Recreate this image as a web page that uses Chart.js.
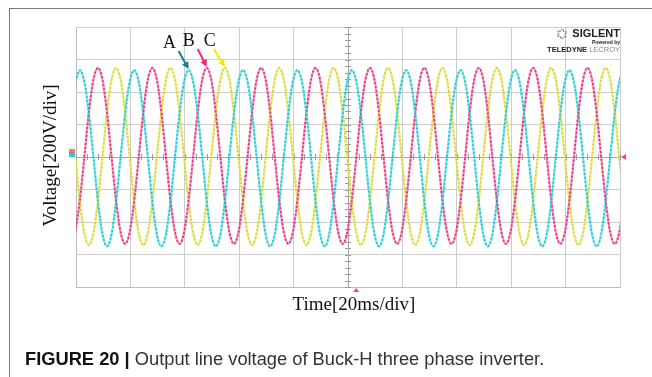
<!DOCTYPE html>
<html>
<head>
<meta charset="utf-8">
<script src="https://cdn.jsdelivr.net/npm/chart.js@4.4.1/dist/chart.umd.min.js"></script>
<style>
  body { margin: 0; background: #fff; }
  #wrap { position: relative; width: 652px; height: 377px; overflow: hidden; }
  #scope { position: absolute; left: 0; top: 0; }
  .frame { position: absolute; left: 9px; top: 8px; right: -2px; bottom: -2px;
           border-top: 1.5px solid #7a7a7a; border-left: 1.5px solid #7a7a7a; }
  .serif { position: absolute; font-family: "Liberation Serif", serif; font-size: 19px;
           line-height: 1; color: #111; white-space: nowrap; }
  .ytitle { left: -51px; top: 146px; width: 200px; text-align: center; transform: rotate(-90deg); }
  .xtitle { left: 254px; top: 294px; width: 200px; text-align: center; }
  .logo { position: absolute; right: 32px; font-family: "Liberation Sans", sans-serif;
          line-height: 1; white-space: nowrap; text-align: right; color: #222; }
  .caption { position: absolute; left: 25px; top: 350px; font-family: "Liberation Sans", sans-serif;
             font-size: 18.3px; line-height: 1; color: #333; white-space: nowrap; }
  .caption b { color: #111; }
</style>
</head>
<body>
<div id="wrap">
  <canvas id="scope" width="652" height="377"></canvas>
  <div class="frame"></div>
  <div class="serif ytitle">Voltage[200V/div]</div>
  <div class="serif xtitle">Time[20ms/div]</div>
  <div class="logo" style="top:28px;font-size:11px;font-weight:bold;">SIGLENT</div>
  <div class="logo" style="top:40px;font-size:5px;font-weight:bold;">Powered by</div>
  <div class="logo" style="top:45.5px;font-size:7.5px;"><b>TELEDYNE</b> <span style="color:#888">LECROY</span></div>
  <div class="caption"><b>FIGURE 20 |</b> Output line voltage of Buck-H three phase inverter.</div>
</div>
<script>
// sample times (ms), 30 degree steps of the 50 Hz output
const timeMs = [
  -0.27,
  1.40, 3.07, 4.73, 6.40, 8.07, 9.73, 11.40, 13.07, 14.73, 16.40, 18.07, 19.73,
  21.40, 23.07, 24.73, 26.40, 28.07, 29.73, 31.40, 33.07, 34.73, 36.40, 38.07, 39.73,
  41.40, 43.07, 44.73, 46.40, 48.07, 49.73, 51.40, 53.07, 54.73, 56.40, 58.07, 59.73,
  61.40, 63.07, 64.73, 66.40, 68.07, 69.73, 71.40, 73.07, 74.73, 76.40, 78.07, 79.73,
  81.40, 83.07, 84.73, 86.40, 88.07, 89.73, 91.40, 93.07, 94.73, 96.40, 98.07, 99.73,
  101.40, 103.07, 104.73, 106.40, 108.07, 109.73, 111.40, 113.07, 114.73, 116.40, 118.07, 119.73,
  121.40, 123.07, 124.73, 126.40, 128.07, 129.73, 131.40, 133.07, 134.73, 136.40, 138.07, 139.73,
  141.40, 143.07, 144.73, 146.40, 148.07, 149.73, 151.40, 153.07, 154.73, 156.40, 158.07, 159.73,
  161.40, 163.07, 164.73, 166.40, 168.07, 169.73, 171.40, 173.07, 174.73, 176.40, 178.07, 179.73,
  181.40, 183.07, 184.73, 186.40, 188.07, 189.73, 191.40, 193.07, 194.73, 196.40, 198.07, 199.73,
  201.40
];

// line voltages (V)
const phaseA = [
  463,
  535, 463, 268, 0, -275, -476, -550, -476, -275, 0, 268, 463,
  535, 463, 268, 0, -275, -476, -550, -476, -275, 0, 268, 463,
  535, 463, 268, 0, -275, -476, -550, -476, -275, 0, 268, 463,
  535, 463, 268, 0, -275, -476, -550, -476, -275, 0, 268, 463,
  535, 463, 268, 0, -275, -476, -550, -476, -275, 0, 268, 463,
  535, 463, 268, 0, -275, -476, -550, -476, -275, 0, 268, 463,
  535, 463, 268, 0, -275, -476, -550, -476, -275, 0, 268, 463,
  535, 463, 268, 0, -275, -476, -550, -476, -275, 0, 268, 463,
  535, 463, 268, 0, -275, -476, -550, -476, -275, 0, 268, 463,
  535, 463, 268, 0, -275, -476, -550, -476, -275, 0, 268, 463,
  535
];
const phaseB = [
  -463,
  -268, 0, 274, 475, 548, 475, 274, 0, -268, -463, -535, -463,
  -268, 0, 274, 475, 548, 475, 274, 0, -268, -463, -535, -463,
  -268, 0, 274, 475, 548, 475, 274, 0, -268, -463, -535, -463,
  -268, 0, 274, 475, 548, 475, 274, 0, -268, -463, -535, -463,
  -268, 0, 274, 475, 548, 475, 274, 0, -268, -463, -535, -463,
  -268, 0, 274, 475, 548, 475, 274, 0, -268, -463, -535, -463,
  -268, 0, 274, 475, 548, 475, 274, 0, -268, -463, -535, -463,
  -268, 0, 274, 475, 548, 475, 274, 0, -268, -463, -535, -463,
  -268, 0, 274, 475, 548, 475, 274, 0, -268, -463, -535, -463,
  -268, 0, 274, 475, 548, 475, 274, 0, -268, -463, -535, -463,
  -268
];
const phaseC = [
  0,
  -271, -469, -542, -469, -271, 0, 274, 475, 548, 475, 274, 0,
  -271, -469, -542, -469, -271, 0, 274, 475, 548, 475, 274, 0,
  -271, -469, -542, -469, -271, 0, 274, 475, 548, 475, 274, 0,
  -271, -469, -542, -469, -271, 0, 274, 475, 548, 475, 274, 0,
  -271, -469, -542, -469, -271, 0, 274, 475, 548, 475, 274, 0,
  -271, -469, -542, -469, -271, 0, 274, 475, 548, 475, 274, 0,
  -271, -469, -542, -469, -271, 0, 274, 475, 548, 475, 274, 0,
  -271, -469, -542, -469, -271, 0, 274, 475, 548, 475, 274, 0,
  -271, -469, -542, -469, -271, 0, 274, 475, 548, 475, 274, 0,
  -271, -469, -542, -469, -271, 0, 274, 475, 548, 475, 274, 0,
  -271
];

// phase tags and the peak each arrow points at (ms)
const phaseNames = ["A", "B", "C"];
const tagPeaks = [41.40, 48.07, 54.73];

const TRIG_TIME = 103; // trigger marker on the time axis

const colors = {
  A: { line: "#22c9d2", under: "rgba(60,215,225,0.6)", arrow: "#17808f" },
  B: { line: "#e8327c", under: "rgba(240,90,150,0.6)", arrow: "#ff2080" },
  C: { line: "#d6d638", under: "rgba(230,230,80,0.65)", arrow: "#f2ee00" },
};

function points(values) {
  return values.map((v, i) => ({ x: timeMs[i], y: v }));
}

function trace(values, color, dashed) {
  return {
    data: points(values),
    borderColor: dashed ? color.line : color.under,
    borderWidth: dashed ? 1.8 : 2.2,
    borderDash: dashed ? [2, 2] : [],
    pointRadius: 0,
    cubicInterpolationMode: "monotone",
  };
}

const series = [phaseA, phaseB, phaseC];

// ticks on the centre cross, arrows + tags, scope markers
const scopeDecor = {
  id: "scopeDecor",
  beforeDatasetsDraw(chart) {
    const { ctx, scales: { x, y } } = chart;
    const x0 = x.getPixelForValue(100);
    const y0 = y.getPixelForValue(0);
    ctx.save();
    ctx.strokeStyle = "#9a9a9a";
    ctx.lineWidth = 1;
    ctx.beginPath();
    for (let t = 0; t <= 200; t += 4) {
      const px = Math.round(x.getPixelForValue(t)) + 0.5;
      ctx.moveTo(px, y0 - 3);
      ctx.lineTo(px, y0 + 3);
    }
    for (let v = -800; v <= 800; v += 40) {
      const py = Math.round(y.getPixelForValue(v)) + 0.5;
      ctx.moveTo(x0 - 3, py);
      ctx.lineTo(x0 + 3, py);
    }
    ctx.stroke();
    ctx.restore();
  },
  afterDatasetsDraw(chart) {
    const { ctx, chartArea, scales: { x, y } } = chart;
    ctx.save();

    // channel ground marker on the left
    const y0 = y.getPixelForValue(0);
    ctx.fillStyle = "#e0904a";
    ctx.fillRect(chartArea.left - 7, y0 - 8, 6, 3);
    ctx.fillStyle = "#d8708a";
    ctx.fillRect(chartArea.left - 7, y0 - 5, 6, 2);
    ctx.fillStyle = "#34c6e2";
    ctx.fillRect(chartArea.left - 7, y0 - 3, 6, 3);

    // trigger level (right) and trigger position (bottom)
    ctx.fillStyle = "#ff3d8b";
    ctx.beginPath();
    ctx.moveTo(chartArea.right + 1, y0);
    ctx.lineTo(chartArea.right + 6, y0 - 3);
    ctx.lineTo(chartArea.right + 6, y0 + 3);
    ctx.fill();
    const tx = x.getPixelForValue(TRIG_TIME);
    ctx.beginPath();
    ctx.moveTo(tx, chartArea.bottom + 1);
    ctx.lineTo(tx - 3, chartArea.bottom + 5);
    ctx.lineTo(tx + 3, chartArea.bottom + 5);
    ctx.fill();

    // A / B / C tags with arrows
    const tagDx = [-19, -18, -15];
    const tailDx = [-10, -9, -11];
    ctx.font = '18px "Liberation Serif"';
    ctx.textAlign = "center";
    ctx.textBaseline = "alphabetic";
    phaseNames.forEach((name, i) => {
      const k = timeMs.indexOf(tagPeaks[i]);
      const px = x.getPixelForValue(tagPeaks[i]);
      const py = y.getPixelForValue(series[i][k]) - 1;
      const sx = px + tailDx[i];
      const sy = py - 18;
      const ang = Math.atan2(py - sy, px - sx);
      const c = colors[name].arrow;
      ctx.strokeStyle = c;
      ctx.fillStyle = c;
      ctx.lineWidth = 2;
      ctx.beginPath();
      ctx.moveTo(sx, sy);
      ctx.lineTo(px - 5 * Math.cos(ang), py - 5 * Math.sin(ang));
      ctx.stroke();
      ctx.beginPath();
      ctx.moveTo(px, py);
      ctx.lineTo(px - 7 * Math.cos(ang) + 3.5 * Math.sin(ang), py - 7 * Math.sin(ang) - 3.5 * Math.cos(ang));
      ctx.lineTo(px - 7 * Math.cos(ang) - 3.5 * Math.sin(ang), py - 7 * Math.sin(ang) + 3.5 * Math.cos(ang));
      ctx.fill();
      ctx.fillStyle = "#111";
      ctx.fillText(name, px + tagDx[i], py - 21);
    });

    // siglent swirl
    ctx.strokeStyle = "#8a8a8a";
    ctx.lineWidth = 1.2;
    const cx = chartArea.right - 58, cy = chartArea.top + 7;
    for (let j = 0; j < 6; j++) {
      const a = (j * Math.PI) / 3;
      ctx.beginPath();
      ctx.arc(cx + 2 * Math.cos(a), cy + 2 * Math.sin(a), 3, a + 0.6, a + 2.0);
      ctx.stroke();
    }
    ctx.restore();
  },
};

const gridColor = (ctx) => (ctx.tick && ctx.tick.value === 0 ? "#a8a8a8" : "#cdcdcd");

const config = {
  type: "line",
  data: {
    datasets: [
      trace(phaseA, colors.A, true),
      trace(phaseB, colors.B, true),
      trace(phaseC, colors.C, true),
      trace(phaseA, colors.A, false),
      trace(phaseB, colors.B, false),
      trace(phaseC, colors.C, false),
    ],
  },
  options: {
    responsive: false,
    animation: false,
    layout: { padding: { left: 76, right: 32, top: 27, bottom: 90 } },
    plugins: { legend: { display: false }, tooltip: { enabled: false } },
    scales: {
      x: {
        type: "linear",
        min: 0,
        max: 200,
        ticks: { display: false, stepSize: 20 },
        grid: { color: (c) => (c.tick && c.tick.value === 100 ? "#a8a8a8" : "#cdcdcd"), drawTicks: false },
        border: { color: "#bdbdbd" },
      },
      y: {
        min: -800,
        max: 800,
        ticks: { display: false, stepSize: 200 },
        grid: { color: gridColor, drawTicks: false },
        border: { color: "#bdbdbd" },
      },
    },
  },
  plugins: [scopeDecor],
};

var scopeChart = new Chart(document.getElementById("scope"), config);
</script>
</body>
</html>
